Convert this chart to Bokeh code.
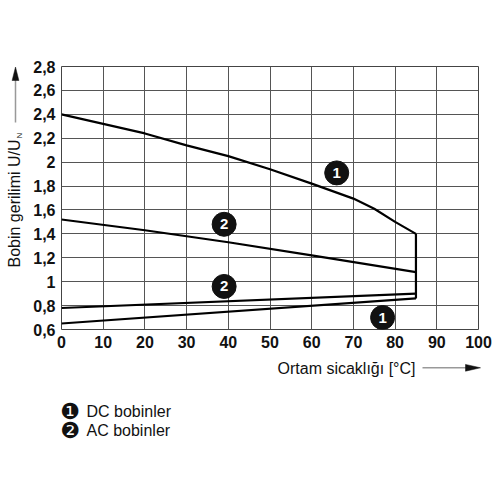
import math
from bokeh.plotting import figure
from bokeh.layouts import row, column
from bokeh.models import Range1d, FixedTicker, Label, ColumnDataSource
from bokeh.core.properties import value
from bokeh.embed import file_html
from bokeh.resources import INLINE

# ---- data ----
x_ticks = [0, 10, 20, 30, 40, 50, 60, 70, 80, 90, 100]
y_ticks = [0.6, 0.8, 1.0, 1.2, 1.4, 1.6, 1.8, 2.0, 2.2, 2.4, 2.6, 2.8]
y_tick_labels = ["0,6", "0,8", "1", "1,2", "1,4", "1,6", "1,8", "2", "2,2", "2,4", "2,6", "2,8"]

dc_upper_x = [0, 10, 20, 30, 40, 50, 60, 70, 75, 80, 85]
dc_upper_y = [2.40, 2.32, 2.24, 2.14, 2.05, 1.94, 1.82, 1.695, 1.61, 1.50, 1.40]
ac_upper_x = [0, 20, 40, 60, 85]
ac_upper_y = [1.52, 1.43, 1.33, 1.22, 1.08]
ac_lower_x = [0, 85]
ac_lower_y = [0.78, 0.90]
dc_lower_x = [0, 85]
dc_lower_y = [0.65, 0.86]
limit_x = [85, 85]
limit_y = [0.86, 1.40]

marker_x = [66, 39, 39, 77]
marker_y = [1.91, 1.48, 0.96, 0.70]
marker_text = ["1", "2", "2", "1"]

legend_items = ["DC bobinler", "AC bobinler"]
legend_symbols = ["\u2776", "\u2777"]

x_title = "Ortam sicaklığı [°C]"
y_title = "Bobin gerilimi U/U"
y_title_sub = "N"

# ---- layout (page pixels) ----
W, H = 500, 500
LEFT_W = 28          # width of the y-title strip
TOP_H = 357          # height of the chart row
FL, FR, FT, FB = 61, 478, 66, 329  # frame edges on the page
XMIN, XMAX, YMIN, YMAX = 0, 100, 0.6, 2.8
INK = "#111111"
SHAFT = "#999999"


def blank(w, h, top=0, bottom=0, y0=None, y1=None):
    f = figure(width=w, height=h, output_backend="svg", toolbar_location=None,
               x_range=Range1d(0, w),
               y_range=Range1d(y1 if y1 is not None else h, y0 if y0 is not None else 0),
               x_axis_type=None, y_axis_type=None, title=None,
               min_border=0, min_border_left=0, min_border_right=0,
               min_border_top=top, min_border_bottom=bottom)
    f.outline_line_color = None
    f.background_fill_color = "white"
    f.border_fill_color = "white"
    f.grid.visible = False
    return f


# ---- main chart ----
p = figure(width=W - LEFT_W, height=TOP_H, output_backend="svg", toolbar_location=None,
           x_range=Range1d(XMIN, XMAX), y_range=Range1d(YMIN, YMAX),
           min_border_left=FL - LEFT_W, min_border_right=W - FR,
           min_border_top=FT, min_border_bottom=TOP_H - FB)
p.background_fill_color = "white"
p.border_fill_color = "white"
p.outline_line_color = "#444444"
p.outline_line_width = 1

for ax in (p.xaxis[0], p.yaxis[0]):
    ax.axis_line_color = None
    ax.major_tick_line_color = None
    ax.minor_tick_line_color = None
    ax.major_tick_out = 0
    ax.major_label_text_font = "Liberation Sans"
    ax.major_label_text_font_style = "bold"
    ax.major_label_text_font_size = "16px"
    ax.major_label_text_color = INK
    ax.major_label_standoff = 6

p.xaxis.ticker = FixedTicker(ticks=x_ticks)
p.yaxis.ticker = FixedTicker(ticks=y_ticks)
p.yaxis.major_label_overrides = {t: l for t, l in zip(y_ticks, y_tick_labels)}
p.xaxis.major_label_overrides = {t: str(t) for t in x_ticks}

p.xgrid.ticker = FixedTicker(ticks=x_ticks)
p.ygrid.ticker = FixedTicker(ticks=y_ticks)
p.xgrid.grid_line_color = "#555555"
p.ygrid.grid_line_color = "#555555"
p.xgrid.grid_line_width = 1
p.ygrid.grid_line_width = 1

lw = 2.2
p.line(dc_upper_x, dc_upper_y, line_color="black", line_width=lw)
p.line(ac_upper_x, ac_upper_y, line_color="black", line_width=lw)
p.line(ac_lower_x, ac_lower_y, line_color="black", line_width=lw)
p.line(dc_lower_x, dc_lower_y, line_color="black", line_width=lw)
p.line(limit_x, limit_y, line_color="black", line_width=lw)

src = ColumnDataSource(dict(x=marker_x, y=marker_y, t=marker_text))
p.scatter("x", "y", source=src, size=24, fill_color=INK, line_color=INK)
p.text("x", "y", text="t", source=src, text_color="white", text_align="center",
       text_baseline="middle", text_font=value("Liberation Sans"),
       text_font_style="bold", text_font_size="15px")

# ---- y title strip (its frame is aligned with the chart frame: page y FT..FB) ----
a = blank(LEFT_W, TOP_H, top=FT, bottom=TOP_H - FB, y0=FT, y1=FB)
a.text(x=[14], y=[267], text=[y_title], angle=math.pi / 2,
       text_align="left", text_baseline="middle",
       text_font=value("Liberation Sans"), text_font_size="16px", text_color=INK)
a.text(x=[18.5], y=[138], text=[y_title_sub], angle=math.pi / 2,
       text_align="left", text_baseline="middle",
       text_font=value("Liberation Sans"), text_font_size="8px", text_color=INK)
a.segment(x0=[15], y0=[122], x1=[15], y1=[79], line_color=SHAFT, line_width=1.5)
a.patch(x=[15, 11.6, 18.4], y=[66.5, 80, 80], fill_color=INK, line_color=INK, line_width=0.5)

# ---- bottom strip: x title + legend ----
c = blank(W, H - TOP_H)
oy = TOP_H
c.add_layout(Label(x=415, y=368 - oy, text=x_title,
                   text_align="right", text_baseline="middle",
                   text_font="Liberation Sans", text_font_size="16px", text_color=INK))
c.segment(x0=[422], y0=[367.3 - oy], x1=[467], y1=[367.3 - oy], line_color=SHAFT, line_width=1.5)
c.patch(x=[480, 465, 465], y=[367.3 - oy, 363.9 - oy, 370.7 - oy],
        fill_color=INK, line_color=INK, line_width=0.5)
for i, (sym, item) in enumerate(zip(legend_symbols, legend_items)):
    yy = 411 + i * 19 - oy
    c.add_layout(Label(x=69.5, y=yy, text=sym, text_align="center",
                       text_baseline="middle", text_font="DejaVu Sans",
                       text_font_size="22px", text_color=INK))
    c.add_layout(Label(x=86, y=yy, text=item, text_align="left",
                       text_baseline="middle", text_font="Liberation Sans",
                       text_font_size="16px", text_color=INK))

layout = column(row(a, p, spacing=0), c, spacing=0)
open("out.html", "w").write(file_html(layout, INLINE))
